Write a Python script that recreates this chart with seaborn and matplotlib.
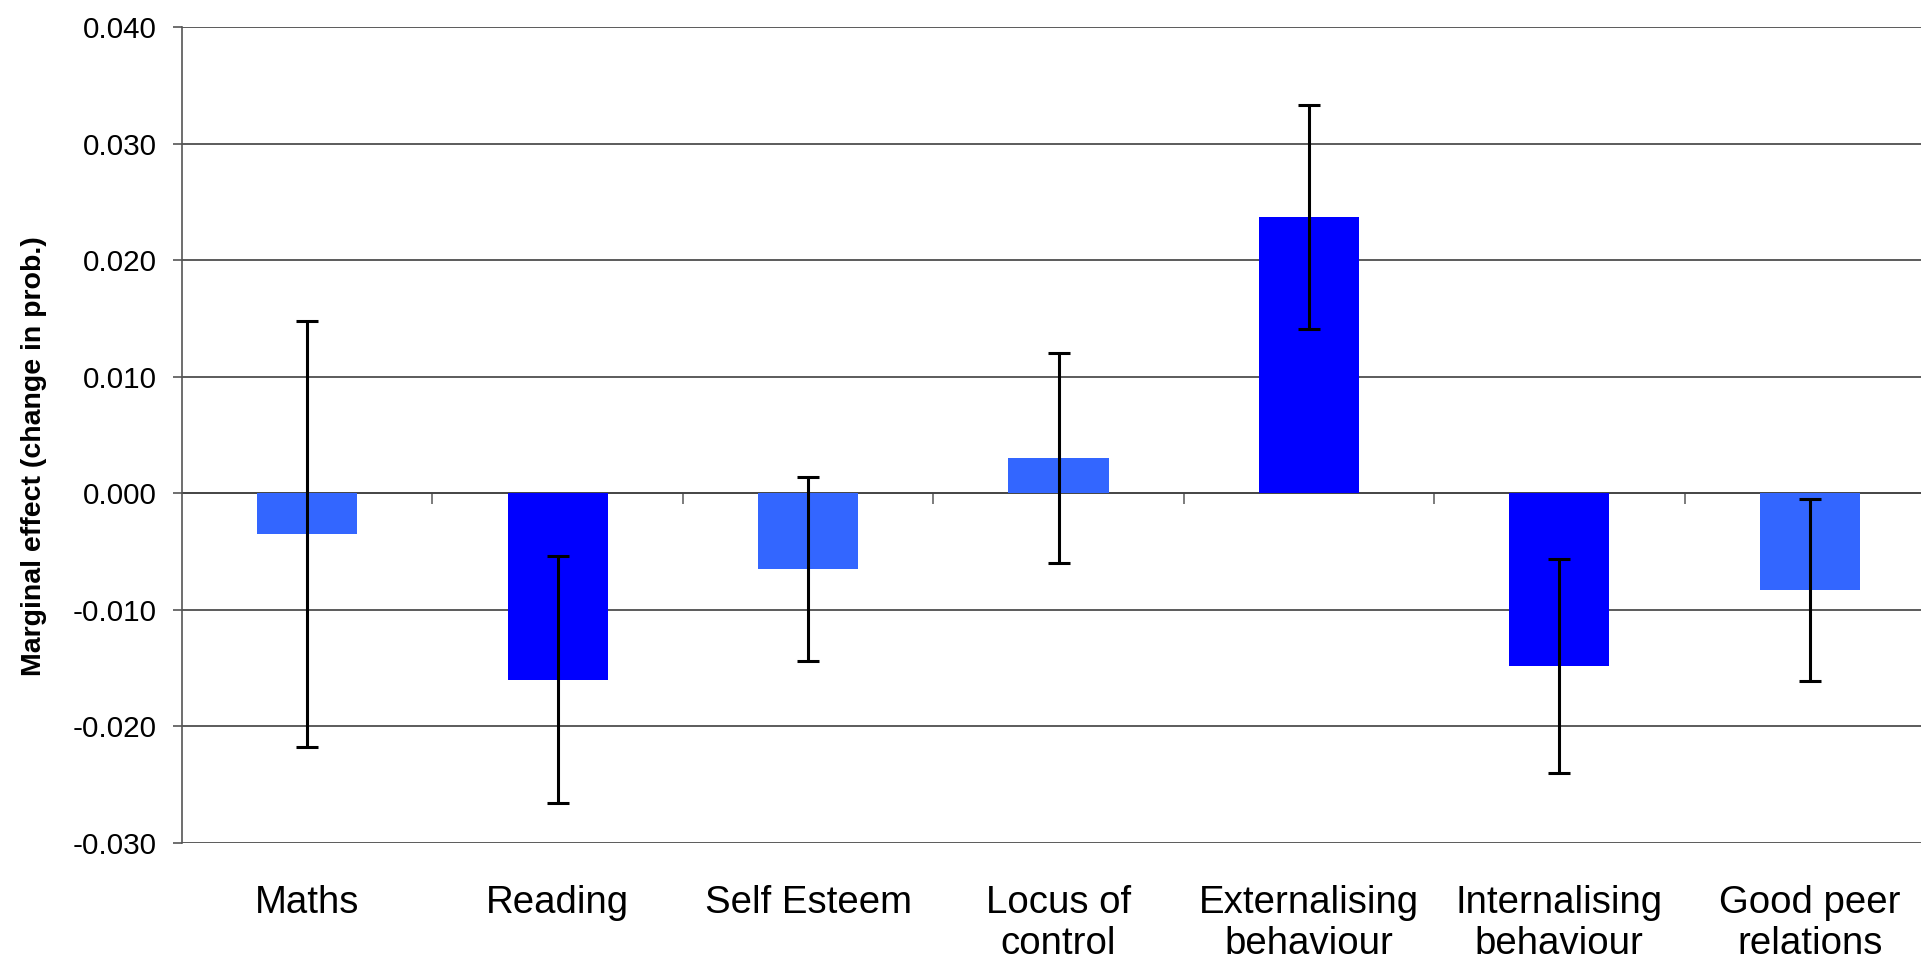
import numpy as np
import pandas as pd
import matplotlib
matplotlib.use("Agg")
import matplotlib.pyplot as plt
import seaborn as sns

# ---- data ----
categories = ["Maths", "Reading", "Self Esteem", "Locus of\ncontrol",
              "Externalising\nbehaviour", "Internalising\nbehaviour", "Good peer\nrelations"]
values = [-0.0035, -0.0160, -0.0065, 0.0030, 0.0237, -0.0148, -0.0083]
errors = [0.0183, 0.0106, 0.0079, 0.0090, 0.0096, 0.0092, 0.0078]
bar_colors = ["#3366FF", "#0000FF", "#3366FF", "#3366FF", "#0000FF", "#0000FF", "#3366FF"]
y_ticks = [-0.030, -0.020, -0.010, 0.000, 0.010, 0.020, 0.030, 0.040]
y_label = "Marginal effect (change in prob.)"

plt.rcParams["font.family"] = ["Liberation Sans", "DejaVu Sans"]

df = pd.DataFrame({"category": categories, "value": values})

W, H = 1921, 963
fig = plt.figure(figsize=(W / 100, H / 100), dpi=100)
# plot area runs slightly past the right edge of the picture, as in the reference
ax = fig.add_axes([182 / W, 1 - 843 / H, (1935 - 182) / W, 816 / H])

sns.barplot(data=df, x="category", y="value", hue="category", order=categories,
            hue_order=categories, palette=dict(zip(categories, bar_colors)),
            width=0.4, saturation=1, legend=False, errorbar=None, ax=ax, zorder=2)

pos = np.arange(len(categories))
ax.errorbar(pos, values, yerr=errors, fmt="none", ecolor="black",
            elinewidth=2.2, capsize=8, capthick=2.2, zorder=3)

ax.set_xlim(-0.5, len(categories) - 0.5)
ax.set_ylim(y_ticks[0], y_ticks[-1])
ax.set_yticks(y_ticks)
ax.set_yticklabels([f"{v:.3f}" for v in y_ticks])
ax.tick_params(axis="y", direction="out", length=6.5, width=1.2, color="#555555",
               labelsize=21.3, pad=11.5, labelcolor="black")
ax.set_xticks(pos)
ax.set_xticklabels(categories)
ax.tick_params(axis="x", length=0, pad=30, labelsize=27.6, labelcolor="black")
ax.set_xlabel("")

ax.yaxis.grid(True, color="#404040", linewidth=1.2)
ax.xaxis.grid(False)
ax.set_axisbelow(True)
for s in ["top", "right", "bottom"]:
    ax.spines[s].set_visible(False)
ax.spines["left"].set_color("#555555")
ax.spines["left"].set_linewidth(1.2)

ax.set_ylabel(y_label, fontsize=20.5, fontweight="bold")
ax.yaxis.set_label_coords(-0.077, 0.474)

# category axis crossing at zero with tick marks between categories
zero_frac = (0 - y_ticks[0]) / (y_ticks[-1] - y_ticks[0])
sec = ax.secondary_xaxis(zero_frac)
sec.set_xticks(pos[:-1] + 0.5)
sec.set_xticklabels([])
sec.tick_params(direction="out", length=8, width=1.2, color="#666666")
sec.spines["bottom"].set_color("#555555")
sec.spines["bottom"].set_linewidth(1.2)

fig.savefig("out.png", dpi=100)
